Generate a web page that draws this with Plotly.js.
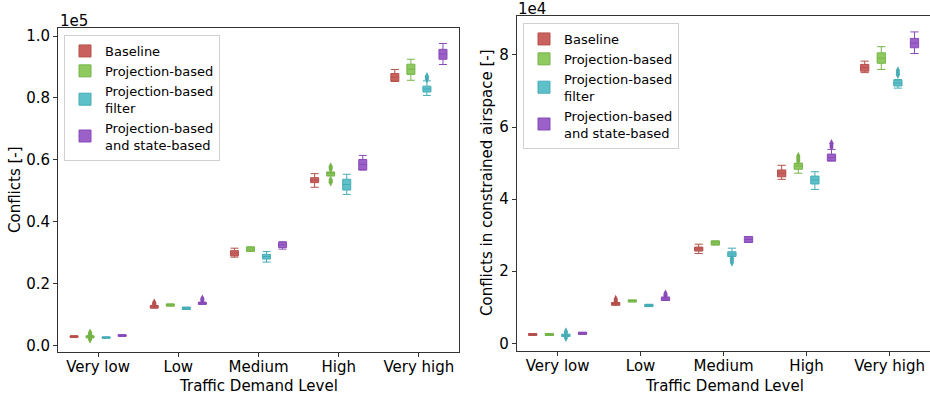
<!DOCTYPE html>
<html><head><meta charset="utf-8">
<script src="https://cdn.plot.ly/plotly-3.0.1.min.js"></script>
<style>html,body{margin:0;padding:0;background:#fff}#chart{width:930px;height:395px}</style>
</head><body><div id="chart"></div>
<script>
// ---- categories ----
const levels = ['Very low', 'Low', 'Medium', 'High', 'Very high'];
const methods = ['Baseline', 'Projection-based', 'Projection-based<br>filter', 'Projection-based<br>and state-based'];

// ---- Left: total conflicts (one row per method, one value per level) ----
const totLow = [
  [2500, 12000, 28500, 51100, 85300],
  [2400, 12700, 30400, 54800, 85700],
  [2300, 11600, 26900, 48800, 80800],
  [2900, 13250, 31100, 56700, 90800]];
const totQ1 = [
  [2600, 12100, 28900, 52600, 85400],
  [2500, 12700, 30400, 54800, 87600],
  [2300, 11600, 27900, 50200, 81900],
  [2900, 13250, 31600, 56700, 92500]];
const totMed = [
  [2800, 12500, 29800, 53400, 86700],
  [2800, 13000, 31100, 55500, 89300],
  [2500, 11900, 28700, 52000, 82900],
  [3200, 13600, 32500, 58500, 94200]];
const totQ3 = [
  [3000, 12800, 30600, 54200, 87900],
  [3000, 13350, 31800, 56000, 90900],
  [2700, 12300, 29400, 53700, 83800],
  [3400, 13900, 33300, 60100, 95700]];
const totHigh = [
  [3100, 12900, 31400, 55500, 89200],
  [3100, 13350, 31800, 56000, 92500],
  [2700, 12300, 30300, 55300, 85500],
  [3400, 13900, 33500, 61400, 97600]];
const totOutMethod = [0, 0, 0, 1, 1, 1, 1, 1, 1, 1, 1, 1, 1, 1, 2, 2, 2, 3, 3, 3];
const totOutLevel  = [1, 1, 1, 0, 0, 0, 0, 0, 3, 3, 3, 3, 3, 3, 4, 4, 4, 1, 1, 1];
const totOutValue  = [13200, 13500, 13800, 3500, 3800, 4100, 2100, 1900, 57000, 57400, 57800, 53500, 53100, 52700, 86000, 86500, 87000, 14300, 14700, 15100];

// ---- Right: conflicts in constrained airspace ----
const conLow = [
  [2200, 10600, 24900, 45500, 75100],
  [2200, 11500, 27300, 47200, 76000],
  [1900, 10200, 24100, 42700, 70800],
  [2500, 11900, 28000, 50600, 80400]];
const conQ1 = [
  [2200, 10600, 25600, 46200, 75500],
  [2200, 11500, 27300, 48300, 77700],
  [1900, 10200, 24100, 44200, 71400],
  [2500, 11900, 28000, 50600, 82000]];
const conMed = [
  [2500, 11000, 26200, 47200, 76500],
  [2500, 11800, 27900, 49200, 79100],
  [2200, 10500, 24800, 45300, 72200],
  [2800, 12300, 28800, 51500, 83300]];
const conQ3 = [
  [2700, 11300, 26700, 48100, 77400],
  [2700, 12000, 28400, 49900, 80600],
  [2500, 10800, 25400, 46400, 73000],
  [3050, 12800, 29600, 52500, 84600]];
const conHigh = [
  [2700, 11300, 27500, 49400, 78300],
  [2700, 12000, 28400, 50000, 82300],
  [2500, 10800, 26400, 47600, 73200],
  [3050, 12800, 29600, 53800, 86400]];
const conOutMethod = [0, 0, 0, 1, 1, 1, 1, 2, 2, 2, 2, 2, 2, 2, 2, 2, 3, 3, 3, 3, 3, 3];
const conOutLevel  = [1, 1, 1, 3, 3, 3, 3, 0, 0, 0, 2, 2, 2, 4, 4, 4, 1, 1, 1, 3, 3, 3];
const conOutValue  = [11500, 11900, 12300, 50600, 51100, 51600, 52000, 2900, 3300, 1500, 23600, 23000, 22400, 74500, 75100, 75700, 13100, 13400, 13800, 54500, 55000, 55500];

// ---- tick labels ----
const totTickVals = [0, 20000, 40000, 60000, 80000, 100000];
const totTickText = ['0.0', '0.2', '0.4', '0.6', '0.8', '1.0'];
const conTickVals = [0, 20000, 40000, 60000, 80000];
const conTickText = ['0', '2', '4', '6', '8'];

// ---- styling ----
const fills = ['rgb(201,98,94)', 'rgb(144,201,96)', 'rgb(94,193,201)', 'rgb(156,96,201)'];
const lines = ['rgb(182,80,76)', 'rgb(118,180,72)', 'rgb(70,172,182)', 'rgb(136,74,184)'];
const offsets = [-0.3, -0.1, 0.1, 0.3];
const FONT = 'DejaVu Sans, sans-serif';

const traces = [];
function addPanel(lo, q1, med, q3, hi, oM, oL, oV, xa, ya, leg) {
  methods.forEach((m, k) => {
    traces.push({
      type: 'box', name: m, legend: leg, xaxis: xa, yaxis: ya,
      x: levels.map((_, i) => i + offsets[k]),
      lowerfence: lo[k], q1: q1[k], median: med[k], q3: q3[k], upperfence: hi[k],
      width: 0.1, whiskerwidth: 1, boxpoints: false,
      fillcolor: fills[k], line: {color: lines[k], width: 1},
      hoverinfo: 'skip'
    });
  });
  methods.forEach((m, k) => {
    const idx = oM.map((v, j) => v === k ? j : -1).filter(j => j >= 0);
    if (!idx.length) return;
    traces.push({
      type: 'scatter', mode: 'markers', showlegend: false, xaxis: xa, yaxis: ya,
      x: idx.map(j => oL[j] + offsets[k]), y: idx.map(j => oV[j]),
      marker: {symbol: 'diamond-tall', size: 6, color: lines[k], line: {width: 0}},
      hoverinfo: 'skip'
    });
  });
}
addPanel(totLow, totQ1, totMed, totQ3, totHigh, totOutMethod, totOutLevel, totOutValue, 'x', 'y', 'legend');
addPanel(conLow, conQ1, conMed, conQ3, conHigh, conOutMethod, conOutLevel, conOutValue, 'x2', 'y2', 'legend2');

const W = 930, H = 395;
const axisCommon = {
  showgrid: false, zeroline: false, showline: true, linecolor: '#333', linewidth: 1,
  ticks: 'outside', ticklen: 4, tickcolor: '#333', tickfont: {size: 15, color: '#000', family: FONT}
};
const legendCommon = {
  xanchor: 'left', yanchor: 'top', bgcolor: 'rgba(255,255,255,0.85)', bordercolor: '#d0d0d0',
  borderwidth: 1, font: {size: 13, color: '#000', family: FONT}, tracegroupgap: 0
};
function title(text, xpx, ypx, angle) {
  return {text: text, xref: 'paper', yref: 'paper', x: xpx / W, y: 1 - ypx / H,
    xanchor: 'center', yanchor: 'middle', textangle: angle, showarrow: false,
    font: {size: 15, color: '#000', family: FONT}};
}
const layout = {
  width: W, height: H, margin: {l: 0, r: 0, t: 0, b: 0},
  paper_bgcolor: '#fff', plot_bgcolor: '#fff', font: {family: FONT, color: '#000'},
  showlegend: true,
  xaxis: Object.assign({}, axisCommon, {
    domain: [58 / W, 459 / W], range: [-0.5, 4.5], mirror: true, ticklabelstandoff: -3,
    tickvals: levels.map((_, i) => i), ticktext: levels
  }),
  yaxis: Object.assign({}, axisCommon, {
    domain: [1 - 352 / H, 1 - 27.7 / H], range: [-2170, 102700], mirror: true,
    tickvals: totTickVals, ticktext: totTickText
  }),
  xaxis2: Object.assign({}, axisCommon, {
    anchor: 'y2', domain: [516.7 / W, 1], range: [-0.493, 4.487], mirror: true, ticklabelstandoff: -3,
    tickvals: levels.map((_, i) => i), ticktext: levels
  }),
  yaxis2: Object.assign({}, axisCommon, {
    anchor: 'x2', domain: [1 - 350.7 / H, 1 - 15.7 / H], range: [-2050, 90900], mirror: false,
    tickvals: conTickVals, ticktext: conTickText
  }),
  legend: Object.assign({}, legendCommon, {x: 64 / W, y: 1 - 35 / H}),
  legend2: Object.assign({}, legendCommon, {x: 523 / W, y: 1 - 23 / H}),
  annotations: [
    {text: '1e5', xref: 'paper', yref: 'paper', x: 58 / W, y: 1 - 21 / H, xanchor: 'left', yanchor: 'middle', showarrow: false, font: {size: 15, color: '#000', family: FONT}},
    {text: '1e4', xref: 'paper', yref: 'paper', x: 516 / W, y: 1 - 9 / H, xanchor: 'left', yanchor: 'middle', showarrow: false, font: {size: 15, color: '#000', family: FONT}},
    title('Traffic Demand Level', 258.5, 385.5, 0),
    title('Traffic Demand Level', 724, 385.5, 0),
    title('Conflicts [-]', 15, 190, -90),
    title('Conflicts in constrained airspace [-]', 487, 183, -90)
  ]
};
Plotly.newPlot('chart', traces, layout, {staticPlot: true, displayModeBar: false});
</script>
</body></html>
